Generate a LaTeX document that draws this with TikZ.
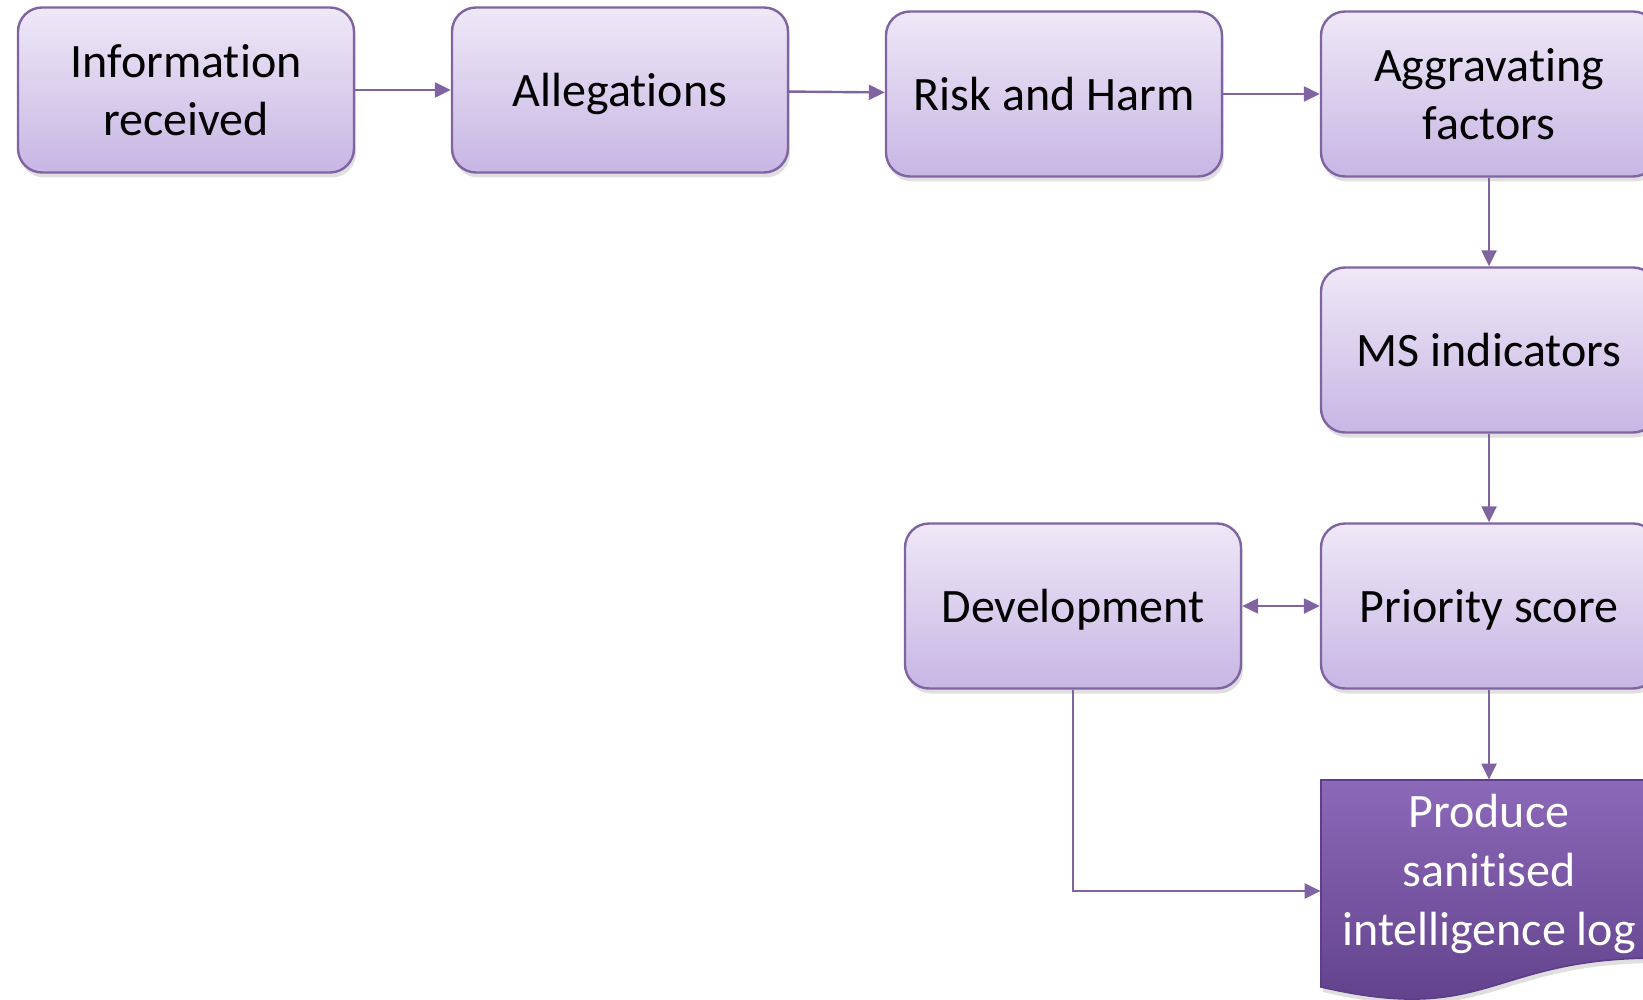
\documentclass[tikz,border=0pt]{standalone}
\usepackage{fontspec}
\setmainfont{Carlito}[Ligatures=NoCommon]
\usetikzlibrary{arrows.meta,shadows}

\definecolor{boxtop}{RGB}{238,232,247}
\definecolor{boxbot}{RGB}{200,182,228}
\definecolor{boxline}{RGB}{128,100,162}
\definecolor{logtop}{RGB}{140,105,185}
\definecolor{logbot}{RGB}{94,62,136}
% keep "t" and "i" apart (no ligature)
\newcommand{\tisep}{t\kern0pt i}

\begin{document}
\begin{tikzpicture}[x=0.5pt,y=-0.5pt,
    flowbox/.style={rectangle,rounded corners=12pt,draw=boxline,line width=1.2pt,
      top color=boxtop,bottom color=boxbot,minimum width=168pt,minimum height=82.5pt,
      align=center,inner sep=2pt,font=\fontsize{24}{29.3}\selectfont,
      drop shadow={opacity=0.25,shadow xshift=1pt,shadow yshift=-2.5pt}},
    oneline/.style={text height=21.5pt,text depth=5pt},
    link/.style={draw=boxline,line width=1.2pt,-{Triangle[length=8pt,width=7.5pt]}}]
    \useasboundingbox (0,0) rectangle (1643,1000);

    % Top row
    \node[flowbox] (info)  at (186,90)  {Informa\tisep on\\received};
    \node[flowbox,oneline] (alleg) at (620,90)  {Allegations};
    \node[flowbox,oneline] (risk)  at (1054,94) {Risk and Harm};
    \node[flowbox] (aggr)  at (1489,94) {Aggrava\tisep ng\\factors};

    % Right column
    \node[flowbox,oneline] (ms)    at (1489,350) {MS indicators};
    \node[flowbox,oneline] (prio)  at (1489,606) {Priority score};
    \node[flowbox,oneline] (dev)   at (1073,606) {Development};

    % Intelligence log (document shape)
    \shade[top color=logtop,bottom color=logbot,draw=logbot,line width=0.8pt,
      drop shadow={opacity=0.25,shadow xshift=1pt,shadow yshift=-2.5pt}]
      (1321,780) -- (1657,780) -- (1657,958)
      .. controls (1489,958) and (1489,1026) .. (1321,987) -- cycle;
    \node[rectangle,minimum width=168pt,minimum height=111pt] (prod) at (1489,891) {};
    \node[font=\fontsize{24}{29.3}\selectfont,text=white,align=center] (prodtext)
      at (1489,874) {Produce\\sani\tisep sed\\intelligence log};

    % Links
    \draw[link] (info) -- (alleg);
    \draw[link] (alleg) -- (risk);
    \draw[link] (risk) -- (aggr);
    \draw[link] (aggr) -- (ms);
    \draw[link] (ms) -- (prio);
    \draw[link] (prio) -- (prod);
    \draw[link,{Triangle[length=8pt,width=7.5pt]}-{Triangle[length=8pt,width=7.5pt]}] (dev) -- (prio);
    \draw[link] (dev.south) |- (prod.west);

  \end{tikzpicture}
\end{document}
